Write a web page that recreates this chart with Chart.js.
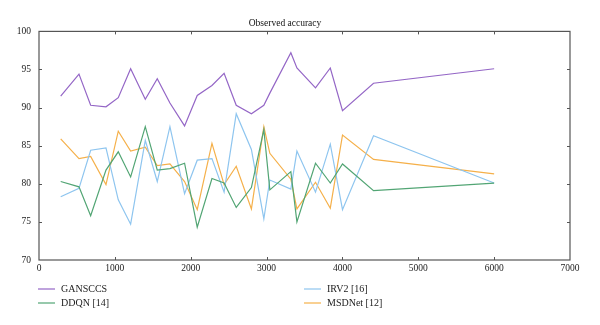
<!DOCTYPE html>
<html>
<head>
<meta charset="utf-8">
<script src="https://cdn.jsdelivr.net/npm/chart.js@4.4.1/dist/chart.umd.min.js"></script>
<style>
    html, body { margin: 0; padding: 0; background: #fff; }
    #wrap { position: relative; width: 600px; height: 325px; }
    #chart { position: absolute; left: 0; top: 0; }
    .legend { position: absolute; font-family: "Liberation Serif", serif; font-size: 10px; color: #222; }
    .legend .item { position: absolute; white-space: nowrap; display: flex; align-items: center; }
    .legend .swatch { display: inline-block; width: 17px; height: 2px; margin-right: 6px; opacity: 0.6; }
</style>
</head>
<body>
<div id="wrap">
    <canvas id="chart" width="600" height="325"></canvas>
    <div class="legend" id="legend"></div>
</div>
<script>
// sample positions shared by all series
const xValues = [286, 527, 681, 883, 1045, 1208, 1401, 1559, 1726, 1919, 2086, 2280, 2440, 2600, 2800, 2964, 3043, 3320, 3400, 3645, 3840, 4001, 4410, 6000];

const gansccs = [91.5, 94.4, 90.3, 90.1, 91.3, 95.1, 91.1, 93.8, 90.6, 87.6, 91.6, 92.9, 94.5, 90.3, 89.2, 90.3, 91.9, 97.2, 95.2, 92.6, 95.2, 89.6, 93.2, 95.1];
const ddqn    = [80.3, 79.6, 75.8, 81.8, 84.2, 80.9, 87.5, 81.8, 82.0, 82.7, 74.3, 80.7, 80.1, 76.9, 79.5, 87.1, 79.2, 81.6, 75.0, 82.7, 80.1, 82.6, 79.1, 80.1];
const irv2    = [78.3, 79.4, 84.4, 84.7, 77.9, 74.7, 85.7, 80.3, 87.5, 78.7, 83.1, 83.3, 78.9, 89.2, 84.5, 75.4, 80.5, 79.3, 84.3, 78.9, 85.2, 76.6, 86.3, 80.1];
const msdnet  = [85.9, 83.3, 83.6, 79.9, 86.9, 84.3, 84.8, 82.4, 82.6, 80.3, 76.6, 85.3, 79.9, 82.3, 76.7, 87.5, 84.0, 80.6, 76.7, 80.2, 76.8, 86.4, 83.2, 81.3];

const seriesNames = ['GANSCCS', 'DDQN [14]', 'IRV2 [16]', 'MSDNet [12]'];
const seriesColors = ['#9466c6', '#52a574', '#8ec5ef', '#f5b04a'];
const seriesData = [gansccs, ddqn, irv2, msdnet];

const xTicks = [0, 1000, 2000, 3000, 4000, 5000, 6000, 7000];
const yTicks = [70, 75, 80, 85, 90, 95, 100];

const serif = '"Liberation Serif", "Times New Roman", serif';

// box around the plot with short inward tick marks
const framePlugin = {
    id: 'frame',
    afterDraw(chart) {
        const { ctx, chartArea: a, scales } = chart;
        ctx.save();
        ctx.strokeStyle = '#555';
        ctx.lineWidth = 1.2;
        ctx.strokeRect(a.left, a.top, a.right - a.left, a.bottom - a.top);
        ctx.lineWidth = 1;
        ctx.beginPath();
        yTicks.slice(1, -1).forEach(v => {
            const py = Math.round(scales.y.getPixelForValue(v)) + 0.5;
            ctx.moveTo(a.left, py); ctx.lineTo(a.left + 3, py);
            ctx.moveTo(a.right, py); ctx.lineTo(a.right - 3, py);
        });
        xTicks.slice(1, -1).forEach(v => {
            const px = Math.round(scales.x.getPixelForValue(v)) + 0.5;
            ctx.moveTo(px, a.bottom); ctx.lineTo(px, a.bottom - 3);
            ctx.moveTo(px, a.top); ctx.lineTo(px, a.top + 3);
        });
        ctx.stroke();
        ctx.restore();
    }
};

new Chart(document.getElementById('chart'), {
    type: 'line',
    data: {
        datasets: seriesNames.map((name, i) => ({
            label: name,
            data: xValues.map((x, j) => ({ x, y: seriesData[i][j] })),
            borderColor: seriesColors[i],
            backgroundColor: seriesColors[i],
            borderWidth: 1.2,
            pointRadius: 0,
            tension: 0,
            fill: false
        }))
    },
    options: {
        responsive: false,
        animation: false,
        layout: { padding: { top: 18, right: 30, bottom: 50, left: 0 } },
        plugins: {
            legend: { display: false },
            tooltip: { enabled: false },
            title: {
                display: true,
                text: 'Observed accuracy',
                color: '#111',
                font: { family: serif, size: 9.5, weight: 'normal' },
                padding: { top: 0, bottom: 2 }
            }
        },
        scales: {
            x: {
                type: 'linear',
                min: 0, max: 7000,
                afterBuildTicks: s => { s.ticks = xTicks.map(v => ({ value: v })); },
                afterFit: s => { s.height = 15; },
                grid: { display: false, drawTicks: false },
                border: { display: false },
                ticks: {
                    color: '#222', padding: 3, maxRotation: 0,
                    font: { family: serif, size: 9.5 },
                    callback: v => String(v)
                }
            },
            y: {
                min: 70, max: 100,
                afterBuildTicks: s => { s.ticks = yTicks.map(v => ({ value: v })); },
                afterFit: s => { s.width = 39; },
                grid: { display: false, drawTicks: false },
                border: { display: false },
                ticks: { color: '#222', padding: 8, font: { family: serif, size: 9.5 } }
            }
        }
    },
    plugins: [framePlugin]
});

// legend laid out in two columns, like the original figure
const legendPos = [[38, 283], [38, 297], [304, 283], [304, 297]];
const legend = document.getElementById('legend');
seriesNames.forEach((name, i) => {
    const item = document.createElement('div');
    item.className = 'item';
    item.style.left = legendPos[i][0] + 'px';
    item.style.top = legendPos[i][1] + 'px';
    item.innerHTML = `<span class="swatch" style="background:${seriesColors[i]}"></span><span>${name}</span>`;
    legend.appendChild(item);
});
</script>
</body>
</html>
